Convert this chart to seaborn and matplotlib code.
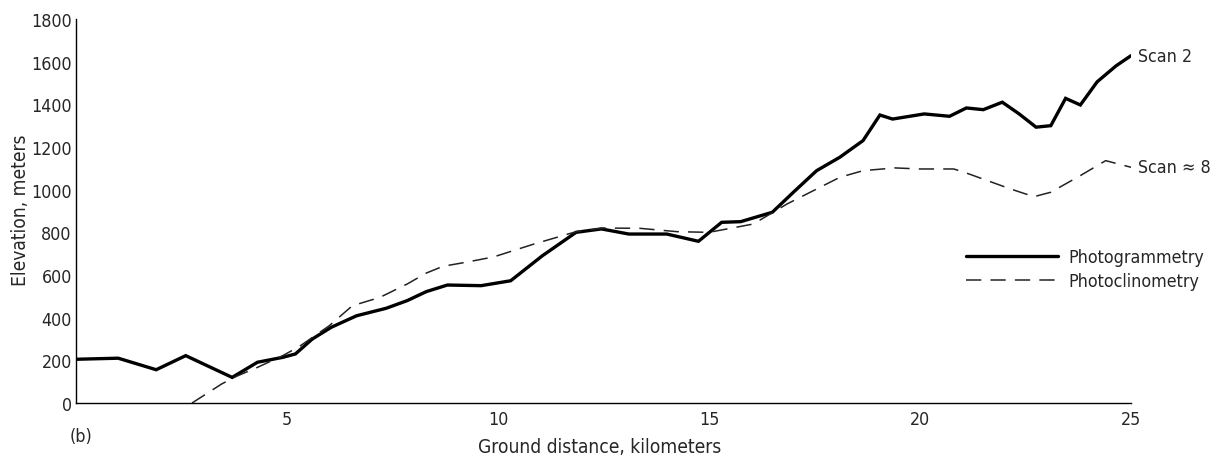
import matplotlib
matplotlib.use("Agg")
import matplotlib.pyplot as plt
import seaborn as sns
import pandas as pd
from matplotlib.ticker import MultipleLocator, FixedLocator

# ---- data ----
photogrammetry_km = [0.0, 1.0, 1.9, 2.6, 3.7, 4.3, 4.9, 5.2, 5.6, 6.05, 6.65, 7.35, 7.85,
                     8.3, 8.8, 9.6, 10.3, 11.05, 11.85, 12.45, 13.1, 14.0, 14.75, 15.3,
                     15.75, 16.5, 17.0, 17.55, 18.1, 18.65, 19.05, 19.35, 20.1, 20.7,
                     21.1, 21.5, 21.95, 22.35, 22.75, 23.1, 23.45, 23.8, 24.2, 24.65, 25.0]
photogrammetry_m = [205, 210, 156, 222, 120, 191, 214, 230, 300, 355, 409, 444, 480,
                    522, 553, 550, 573, 690, 800, 816, 792, 792, 758, 847,
                    850, 894, 988, 1089, 1152, 1230, 1350, 1331, 1355, 1344,
                    1383, 1375, 1410, 1355, 1293, 1300, 1428, 1397, 1506, 1581, 1628]

photoclinometry_km = [2.75, 3.45, 3.8, 4.3, 4.9, 5.3, 6.0, 6.55, 6.95, 7.2, 7.85, 8.3, 8.7,
                      9.25, 9.9, 10.85, 11.85, 12.5, 13.35, 14.25, 15.0, 16.05, 16.85,
                      17.4, 18.1, 18.65, 19.4, 20.0, 20.8, 21.1, 22.15, 22.7, 23.1,
                      23.8, 24.4, 25.0]
photoclinometry_m = [0, 89, 125, 167, 222, 266, 362, 456, 480, 495, 558, 609, 641,
                     660, 685, 745, 803, 820, 819, 803, 800, 839, 933,
                     988, 1058, 1089, 1102, 1097, 1097, 1078, 1003, 967, 988,
                     1066, 1136, 1105]

series_labels = ["Photogrammetry", "Photoclinometry"]
end_labels = ["Scan 2", "Scan \u2248 8"]
x_ticks = [5, 10, 15, 20, 25]
y_ticks = list(range(0, 1801, 200))

# ---- figure ----
sns.set_style("white")
plt.rcParams["font.family"] = ["DejaVu Sans"]
plt.rcParams["font.stretch"] = "condensed"

FS = 12.8
LFS = 13.8
W, H = 1214, 460
fig = plt.figure(figsize=(W / 100, H / 100), dpi=100)
ax = fig.add_axes([76 / W, 1 - 404 / H, (1131 - 76) / W, (404 - 20) / H])

df1 = pd.DataFrame({"km": photogrammetry_km, "m": photogrammetry_m})
df2 = pd.DataFrame({"km": photoclinometry_km, "m": photoclinometry_m})

sns.lineplot(data=df1, x="km", y="m", ax=ax, color="black", linewidth=2.4,
             label=series_labels[0], solid_joinstyle="miter")
sns.lineplot(data=df2, x="km", y="m", ax=ax, color="#222222", linewidth=1.1,
             linestyle=(0, (10, 6)), label=series_labels[1])

ax.set_xlim(0, 25)
ax.set_ylim(0, 1800)
ax.xaxis.set_major_locator(FixedLocator(x_ticks))
ax.xaxis.set_minor_locator(MultipleLocator(1))
ax.yaxis.set_major_locator(FixedLocator(y_ticks))

for s in ["top", "right"]:
    ax.spines[s].set_visible(False)
for s in ["left", "bottom"]:
    ax.spines[s].set_color("black")
    ax.spines[s].set_linewidth(1.0)

ax.tick_params(axis="x", which="both", direction="in", length=8.5, width=1.0,
               color="black", labelsize=FS, pad=5)
ax.tick_params(axis="y", which="major", direction="in", length=7, width=1.0,
               color="black", labelsize=FS, pad=3)

ax.set_xlabel("Ground distance, kilometers", fontsize=LFS)
ax.set_ylabel("Elevation, meters", fontsize=LFS)
ax.xaxis.set_label_coords((600 - 76) / 1055, (404 - 448) / 384)
ax.yaxis.set_label_coords((21 - 76) / 1055, (404 - 210) / 384)
ax.xaxis.label.set_va("center")
ax.yaxis.label.set_va("center")

# end-of-line labels
ax.annotate(end_labels[0], xy=(photogrammetry_km[-1], photogrammetry_m[-1]),
            xytext=(5, 0), textcoords="offset points", fontsize=FS,
            va="center", ha="left", annotation_clip=False)
ax.annotate(end_labels[1], xy=(photoclinometry_km[-1], photoclinometry_m[-1]),
            xytext=(5, 0), textcoords="offset points", fontsize=FS,
            va="center", ha="left", annotation_clip=False)

fig.text(70 / W, 1 - 437 / H, "(b)", fontsize=FS, ha="left", va="center")

leg = ax.legend(loc="center left", bbox_to_anchor=(966 / W, 1 - 270 / H),
                bbox_transform=fig.transFigure, frameon=False, fontsize=FS,
                handlelength=5.2, handletextpad=0.55, borderpad=0,
                borderaxespad=0, labelspacing=0.35)

fig.savefig("out.png", dpi=100, facecolor="white")
